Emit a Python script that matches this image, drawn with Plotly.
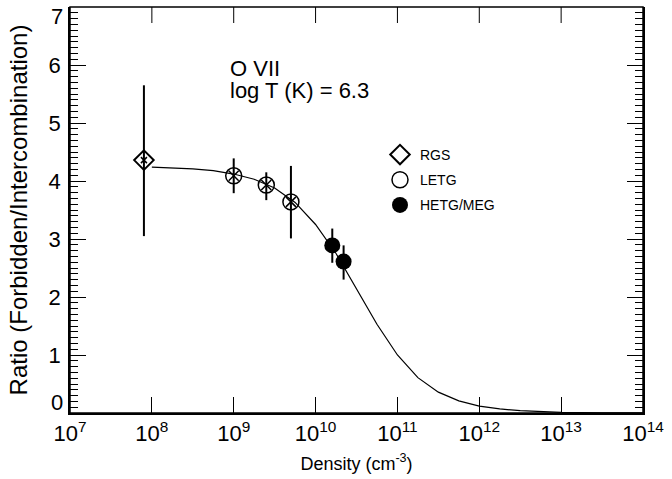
import plotly.graph_objects as go

# Data
rgs_density = [8.0e7]
rgs_ratio = [4.36]
rgs_err_plus = [1.29]
rgs_err_minus = [1.31]

letg_density = [1.0e9, 2.5e9, 5.0e9]
letg_ratio = [4.09, 3.93, 3.64]
letg_err_plus = [0.30, 0.22, 0.62]
letg_err_minus = [0.30, 0.26, 0.63]

hetg_density = [1.6e10, 2.2e10]
hetg_ratio = [2.89, 2.61]
hetg_err_plus = [0.29, 0.28]
hetg_err_minus = [0.30, 0.31]

curve_log_density = [8.0, 8.25, 8.5, 8.75, 9.0, 9.25, 9.5, 9.75, 10.0, 10.25, 10.5,
                     10.75, 11.0, 11.25, 11.5, 11.75, 12.0, 12.25, 12.5, 12.75, 13.0,
                     13.5, 14.0]
curve_ratio = [4.24, 4.23, 4.21, 4.18, 4.12, 4.03, 3.88, 3.63, 3.25, 2.75, 2.15,
               1.53, 1.00, 0.61, 0.36, 0.21, 0.12, 0.07, 0.04, 0.02, 0.01,
               0.004, 0.001]

x_tick_exponents = [7, 8, 9, 10, 11, 12, 13, 14]
y_ticks = [0, 1, 2, 3, 4, 5, 6, 7]
y_ticktext = ["", "1", "2", "3", "4", "5", "6", ""]

curve_density = [10 ** v for v in curve_log_density]

FONT = "Liberation Sans, Arial, sans-serif"
Y_MAX = 7
PLOT_H = 479 - 7 - 66
TOP_TICK = 16 * Y_MAX / PLOT_H   # 16 px tick length in data units

fig = go.Figure()

fig.add_trace(go.Scatter(x=curve_density, y=curve_ratio, mode="lines",
                         line=dict(color="black", width=1.2), showlegend=False,
                         hoverinfo="skip"))

# mirrored major ticks along the top edge, at the x tick values
top_x, top_y = [], []
for e in x_tick_exponents[1:-1]:
    top_x += [10 ** e, 10 ** e, None]
    top_y += [Y_MAX, Y_MAX - TOP_TICK, None]
fig.add_trace(go.Scatter(x=top_x, y=top_y, mode="lines", line=dict(color="black", width=1),
                         showlegend=False, hoverinfo="skip", cliponaxis=False))

def err(p, m):
    return dict(type="data", symmetric=False, array=p, arrayminus=m,
                color="black", thickness=2, width=0)

fig.add_trace(go.Scatter(x=rgs_density, y=rgs_ratio, mode="markers", name="RGS",
                         error_y=err(rgs_err_plus, rgs_err_minus),
                         marker=dict(symbol="diamond-open", size=15, color="black",
                                     line=dict(width=2, color="black")),
                         legendgroup="a"))
fig.add_trace(go.Scatter(x=rgs_density, y=rgs_ratio, mode="markers", showlegend=False,
                         marker=dict(symbol="x-thin-open", size=6, color="black",
                                     line=dict(width=1.5, color="black"))))

fig.add_trace(go.Scatter(x=letg_density, y=letg_ratio, mode="markers", name="LETG",
                         error_y=err(letg_err_plus, letg_err_minus),
                         marker=dict(symbol="circle-open", size=16, color="black",
                                     line=dict(width=1.5, color="black")),
                         legendgroup="b"))
fig.add_trace(go.Scatter(x=letg_density, y=letg_ratio, mode="markers", showlegend=False,
                         marker=dict(symbol="x-thin-open", size=10, color="black",
                                     line=dict(width=1.5, color="black"))))

fig.add_trace(go.Scatter(x=hetg_density, y=hetg_ratio, mode="markers", name="HETG/MEG",
                         error_y=err(hetg_err_plus, hetg_err_minus),
                         marker=dict(symbol="circle", size=16, color="black"),
                         legendgroup="c"))

# dummy trace to activate the mirrored right axis
fig.add_trace(go.Scatter(x=[1e10], y=[3], xaxis="x", yaxis="y2", mode="markers",
                         marker=dict(opacity=0), showlegend=False, hoverinfo="skip"))

fig.add_annotation(x=8.93, y=5.94, xref="x", yref="y", text="O VII", showarrow=False,
                   xanchor="left", yanchor="middle", font=dict(size=22, color="black", family=FONT))
fig.add_annotation(x=8.93, y=5.56, xref="x", yref="y", text="log T (K) = 6.3", showarrow=False,
                   xanchor="left", yanchor="middle", font=dict(size=22, color="black", family=FONT))
# end y tick labels, kept inside the plot's height like in the reference
fig.add_annotation(x=0, y=7, xref="paper", yref="y", text="7", showarrow=False,
                   xanchor="right", yanchor="top", xshift=-5, yshift=5,
                   font=dict(size=22, color="black", family=FONT))
fig.add_annotation(x=0, y=0, xref="paper", yref="y", text="0", showarrow=False,
                   xanchor="right", yanchor="bottom", xshift=-5, yshift=-4,
                   font=dict(size=22, color="black", family=FONT))

# frame
fig.add_shape(type="rect", xref="paper", yref="paper", x0=0, y0=0, x1=1, y1=1,
              line=dict(color="black", width=1.5), layer="above")

fig.update_layout(
    width=672, height=479,
    margin=dict(l=70, r=29, t=7, b=66),
    plot_bgcolor="white", paper_bgcolor="white",
    font=dict(family=FONT, color="black"),
    legend=dict(x=0.541, y=0.675, xanchor="left", yanchor="top",
                font=dict(size=14, family=FONT), bgcolor="rgba(0,0,0,0)",
                tracegroupgap=4, itemsizing="trace"),
)

common_y = dict(range=[0, Y_MAX], showgrid=False, zeroline=False,
                showline=True, linecolor="black", linewidth=1.5,
                ticks="inside", ticklen=16, tickwidth=1, tickcolor="black",
                tickvals=y_ticks, automargin=False,
                minor=dict(ticks="inside", ticklen=8, dtick=0.1, tickcolor="black", tickwidth=1))

fig.update_layout(
    xaxis=dict(type="log", range=[7, 14], showgrid=False, zeroline=False,
               showline=True, linecolor="black", linewidth=1.5,
               ticks="inside", ticklen=16, tickwidth=1, tickcolor="black",
               tickvals=[10 ** e for e in x_tick_exponents], automargin=False,
               ticktext=["10<sup>%d</sup>" % e for e in x_tick_exponents],
               tickfont=dict(size=22, family=FONT),
               title=dict(text="Density (cm<sup>-3</sup>)", font=dict(size=18, family=FONT),
                          standoff=12)),
    yaxis=dict(**common_y, ticktext=y_ticktext, tickfont=dict(size=22, family=FONT),
               ticklabelstandoff=3,
               title=dict(text="Ratio (Forbidden/Intercombination)",
                          font=dict(size=24, family=FONT), standoff=14)),
    yaxis2=dict(**common_y, overlaying="y", side="right", anchor="x", showticklabels=False),
)

fig.write_html("out.html", config={"displayModeBar": False},
               post_script="document.body.style.margin='0';document.body.style.overflow='hidden';")
